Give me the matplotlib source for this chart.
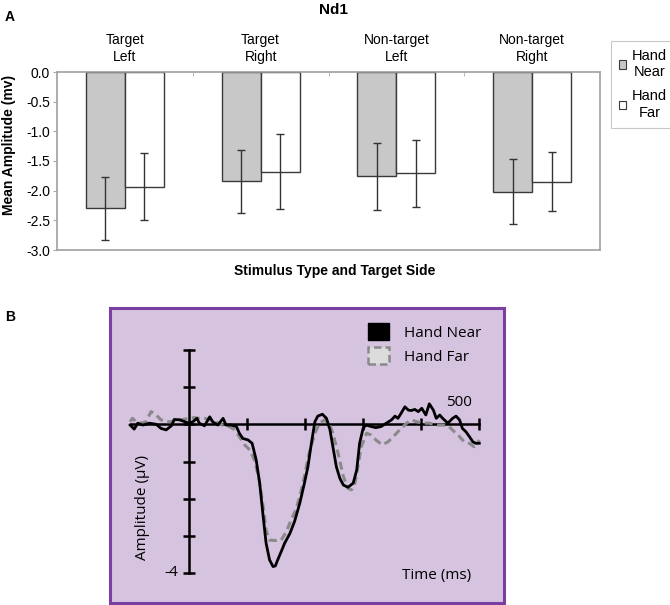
import matplotlib
matplotlib.use("Agg")
import matplotlib.pyplot as plt
import numpy as np
from matplotlib.patches import Rectangle, Patch

# ---------------- Panel A data ----------------
categories = ["Target\nLeft", "Target\nRight", "Non-target\nLeft", "Non-target\nRight"]
near_means = [-2.30, -1.84, -1.76, -2.02]
near_err = [0.53, 0.53, 0.56, 0.55]
far_means = [-1.93, -1.68, -1.71, -1.85]
far_err = [0.57, 0.63, 0.56, 0.50]
yticks_a = [0.0, -0.5, -1.0, -1.5, -2.0, -2.5, -3.0]

# ---------------- Panel B data ----------------
near_t = [-101, -94, -88, -79, -68, -56, -48, -39, -30, -25, -16, -7, 0, 7, 14, 18, 27, 36, 41, 50,
          59, 64, 73, 82, 87, 93, 102, 109, 116, 122, 128, 133, 139, 145, 149, 153, 159, 165, 174, 182,
          191, 199, 205, 211, 217, 222, 230, 237, 243, 248, 254, 260, 266, 274, 283, 289, 294, 300, 305,
          314, 322, 331, 340, 349, 355, 360, 366, 372, 378, 383, 389, 395, 401, 408, 414, 421, 426, 432,
          437, 446, 454, 460, 466, 471, 477, 483, 489, 494, 500]
near_v = [-0.02, -0.13, 0.03, -0.02, 0.03, 0.0, -0.11, -0.15, -0.04, 0.13, 0.12, 0.07, 0.03, 0.07, 0.16,
          0.03, -0.04, 0.20, 0.07, -0.02, 0.16, -0.02, -0.02, -0.06, -0.24, -0.38, -0.42, -0.51, -0.96,
          -1.58, -2.48, -3.19, -3.64, -3.82, -3.80, -3.64, -3.42, -3.19, -2.93, -2.61, -2.12, -1.58, -1.14,
          -0.51, 0.07, 0.22, 0.27, 0.16, -0.15, -0.60, -1.14, -1.45, -1.63, -1.69, -1.58, -1.23, -0.51,
          -0.11, -0.02, -0.06, -0.09, -0.06, 0.03, 0.12, 0.22, 0.16, 0.31, 0.47, 0.38, 0.37, 0.40, 0.34,
          0.43, 0.25, 0.55, 0.38, 0.16, 0.25, 0.16, 0.03, 0.16, 0.22, 0.12, -0.11, -0.20, -0.33, -0.47,
          -0.51, -0.51]
far_t = [-101, -97, -91, -82, -74, -65, -56, -48, -39, -30, -22, -10, 0, 10, 18, 27, 36, 44, 53, 61, 70,
         79, 87, 96, 105, 113, 121, 128, 133, 139, 151, 159, 168, 176, 184, 191, 199, 207, 217, 225, 234,
         243, 248, 257, 266, 274, 280, 286, 291, 297, 306, 314, 322, 333, 343, 352, 363, 375, 383, 392,
         403, 414, 426, 437, 448, 457, 466, 474, 483, 491, 497, 500]
far_v = [0.07, 0.16, 0.07, 0.03, 0.07, 0.34, 0.25, 0.12, 0.07, 0.07, 0.12, 0.13, 0.16, 0.18, 0.16, 0.16,
         0.12, 0.09, 0.01, -0.04, -0.06, -0.15, -0.33, -0.55, -0.69, -0.96, -1.49, -2.21, -2.84, -3.11,
         -3.12, -3.11, -2.88, -2.57, -2.30, -1.94, -1.40, -0.78, -0.24, 0.03, 0.12, -0.02, -0.24, -0.78,
         -1.40, -1.72, -1.76, -1.58, -1.14, -0.60, -0.24, -0.29, -0.42, -0.55, -0.47, -0.33, -0.15, 0.03,
         0.12, 0.07, 0.03, 0.03, -0.02, -0.02, -0.06, -0.20, -0.33, -0.47, -0.51, -0.60, -0.51, -0.42]
xticks_b = [100, 200, 300, 400, 500]
yticks_b = [2, 1, 0, -1, -2, -3, -4]

W, H = 670, 605
fig = plt.figure(figsize=(W / 100, H / 100), dpi=100)
fig.patch.set_facecolor("white")

def fx(px):
    return px / W

def fy(py):
    return 1 - py / H

# ---------------- Panel A ----------------
sans = ["Liberation Sans", "DejaVu Sans"]
axA = fig.add_axes([fx(57), fy(250), fx(600) - fx(57), fy(72) - fy(250)])
x = np.arange(len(categories))
bw = 0.287
axA.bar(x - bw / 2, near_means, width=bw, color="#c8c8c8", edgecolor="#3a3a3a", linewidth=1.0,
        label="Hand\nNear", zorder=2)
axA.bar(x + bw / 2, far_means, width=bw, color="white", edgecolor="#3a3a3a", linewidth=1.0,
        label="Hand\nFar", zorder=2)
axA.errorbar(x - bw / 2, near_means, yerr=near_err, fmt="none", ecolor="#333333", elinewidth=1.0,
             capsize=3, capthick=1.0, zorder=3)
axA.errorbar(x + bw / 2, far_means, yerr=far_err, fmt="none", ecolor="#333333", elinewidth=1.0,
             capsize=3, capthick=1.0, zorder=3)
axA.set_xlim(-0.5, 3.5)
axA.set_ylim(-3.0, 0.0)
axA.set_yticks(yticks_a)
axA.set_yticklabels([f"{v:.1f}" for v in yticks_a], fontsize=10, family=sans)
axA.tick_params(axis="y", direction="out", length=3, color="#aaaaaa", pad=2)
axA.xaxis.tick_top()
axA.set_xticks(x)
axA.set_xticklabels(categories, fontsize=10, family=sans, linespacing=1.25)
axA.tick_params(axis="x", length=0, pad=6)
axA.set_xticks([0.5, 1.5, 2.5], minor=True)
axA.tick_params(axis="x", which="minor", direction="in", length=3, color="#aaaaaa")
for s in axA.spines.values():
    s.set_color("#a0a0a0")
    s.set_linewidth(1.2)
fig.text(fx(9), fy(145), "Mean Amplitude (mv)", fontsize=10, fontweight="bold", family=sans,
         ha="center", va="center", rotation=90)
fig.text(fx(335), fy(271), "Stimulus Type and Target Side", fontsize=10, fontweight="bold",
         family=sans, ha="center", va="center")
fig.text(fx(333), fy(10), "Nd1", fontsize=11, fontweight="bold", family=sans, ha="center", va="center")
fig.text(fx(10), fy(17), "A", fontsize=10, fontweight="bold", family=sans, ha="center", va="center")
legA = axA.legend(loc="upper left", bbox_to_anchor=(fx(611), fy(41)), bbox_transform=fig.transFigure,
                  prop={"family": sans, "size": 10.5}, handlelength=0.5, handleheight=0.5,
                  handletextpad=0.4, labelspacing=0.7, borderpad=0.55, borderaxespad=0,
                  fancybox=False, edgecolor="#c8c8c8", framealpha=1)
legA.get_frame().set_linewidth(0.8)
for t in legA.get_texts():
    t.set_multialignment("center")
for h in legA.legend_handles:
    h.set_linewidth(0.8)

# ---------------- Panel B ----------------
fig.text(fx(10), fy(317), "B", fontsize=10, fontweight="bold", family=sans, ha="center", va="center")
fig.patches.append(Rectangle((fx(110), fy(603)), fx(504) - fx(110), fy(308) - fy(603),
                             transform=fig.transFigure, facecolor="#d5c3df", edgecolor="#7a3fa0",
                             linewidth=2.2, zorder=0))

bfont = ["Open Sans", "DejaVu Sans"]
axB = fig.add_axes([fx(110), fy(603), fx(504) - fx(110), fy(308) - fy(603)])
axB.set_zorder(3)
axB.patch.set_alpha(0)
pxms = (479.3 - 189.3) / 500.0
pxuv = (573.3 - 424.3) / 4.0
axB.set_xlim(-100 - (130.7 - 110) / pxms, 500 + (504 - 479.3) / pxms)
axB.set_ylim(-(603 - 424.3) / pxuv, (424.3 - 308) / pxuv)
for side in ["top", "right"]:
    axB.spines[side].set_visible(False)
axB.spines["left"].set_position(("data", 0))
axB.spines["bottom"].set_position(("data", 0))
axB.spines["left"].set_bounds(-4, 2)
axB.spines["bottom"].set_bounds(-100, 500)
for side in ["left", "bottom"]:
    axB.spines[side].set_linewidth(1.8)
    axB.spines[side].set_color("black")
axB.set_xticks(xticks_b)
axB.set_yticks(yticks_b)
axB.set_xticklabels([])
axB.set_yticklabels([])
axB.tick_params(axis="both", direction="inout", length=9, width=1.8, color="black")

axB.plot(far_t, far_v, color="#8a8a8a", linewidth=2.2, linestyle=(0, (2.6, 1.5)), zorder=3)
axB.plot(near_t, near_v, color="black", linewidth=2.0, zorder=4)

fig.text(fx(459), fy(402), "500", fontsize=11, family=bfont, ha="center", va="center", zorder=5)
fig.text(fx(171), fy(573), "-4", fontsize=11, family=bfont, ha="center", va="center", zorder=5)
fig.text(fx(142), fy(507), "Amplitude (µV)", fontsize=11, family=bfont, ha="center", va="center",
         rotation=90, zorder=5)
fig.text(fx(437), fy(576), "Time (ms)", fontsize=11, family=bfont, ha="center", va="center", zorder=5)

hB = [Patch(facecolor="black", edgecolor="black", label="Hand Near"),
      Patch(facecolor="#dcdcdc", edgecolor="#8a8a8a", linestyle=(0, (3, 1.6)), linewidth=1.8,
            label="Hand Far")]
axB.legend(handles=hB, loc="upper left", bbox_to_anchor=(fx(368), fy(323)),
           bbox_transform=fig.transFigure, frameon=False, prop={"family": bfont, "size": 11},
           handlelength=1.35, handleheight=1.35, handletextpad=1.0, labelspacing=0.42, borderpad=0,
           borderaxespad=0)

fig.savefig("out.png", dpi=100, facecolor="white")
